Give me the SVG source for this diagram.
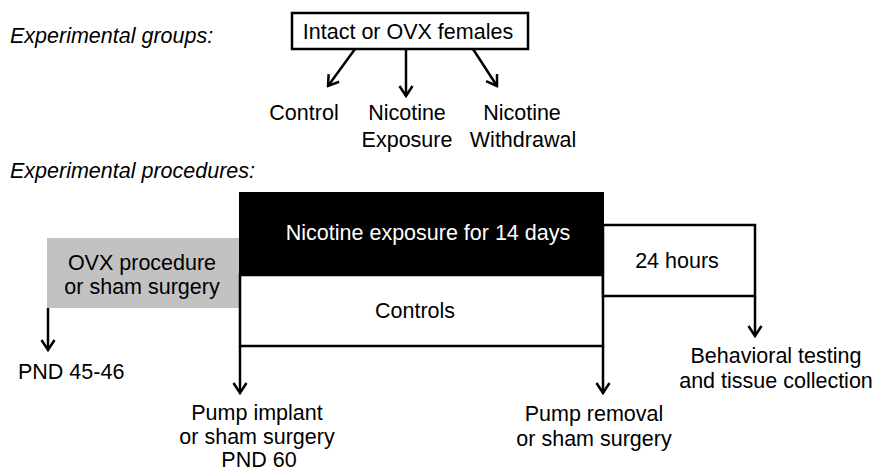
<svg xmlns="http://www.w3.org/2000/svg" width="875" height="473" viewBox="0 0 875 473">
<defs>
<marker id="arr" viewBox="0 0 14 16" refX="12" refY="8" markerWidth="14" markerHeight="16" markerUnits="userSpaceOnUse" orient="auto">
<path d="M2,1.5 L12,8 L2,14.5" fill="none" stroke="#000" stroke-width="2.5" stroke-linejoin="miter"/>
</marker>
<style>
text{font-family:"Liberation Sans",Arial,sans-serif;font-size:21.5px;fill:#000}
.it{font-style:italic}
.c{text-anchor:middle}
.w{fill:#fff}
.box{fill:#fff;stroke:#000;stroke-width:2.5}
.con{fill:none;stroke:#000;stroke-width:2.5;marker-end:url(#arr)}
</style>
</defs>
<rect width="875" height="473" fill="#fff"/>
<g id="labels">
<text class="it" x="10" y="43">Experimental groups:</text>
<text class="it" x="10" y="178">Experimental procedures:</text>
</g>
<g id="females">
<rect class="box" x="292" y="13" width="236" height="36"/>
<text class="c" x="408" y="39">Intact or OVX females</text>
</g>
<g id="control"><text class="c" x="304" y="120">Control</text></g>
<g id="exposure"><text class="c" x="407" y="120">Nicotine</text><text class="c" x="407" y="147">Exposure</text></g>
<g id="withdrawal"><text class="c" x="522" y="120">Nicotine</text><text class="c" x="523" y="147">Withdrawal</text></g>
<g id="ovx">
<rect x="47" y="238" width="193" height="70" fill="#c2c2c2"/>
<text class="c" x="142" y="270">OVX procedure</text>
<text class="c" x="142" y="294">or sham surgery</text>
</g>
<g id="controls">
<rect class="box" x="240" y="275" width="363" height="71"/>
<text class="c" x="415" y="318">Controls</text>
</g>
<g id="nicotine">
<rect x="239" y="192" width="365" height="83" fill="#000"/>
<text class="c w" x="428" y="240">Nicotine exposure for 14 days</text>
</g>
<g id="hours">
<rect class="box" x="603" y="225" width="152" height="71"/>
<text class="c" x="677" y="268">24 hours</text>
</g>
<g id="pnd45"><text x="18" y="379">PND 45-46</text></g>
<g id="implant">
<text class="c" x="257" y="420">Pump implant</text>
<text class="c" x="257" y="444">or sham surgery</text>
<text class="c" x="259" y="467">PND 60</text>
</g>
<g id="removal">
<text class="c" x="594" y="421">Pump removal</text>
<text class="c" x="594" y="446">or sham surgery</text>
</g>
<g id="behavior">
<text class="c" x="776" y="363">Behavioral testing</text>
<text class="c" x="776" y="388">and tissue collection</text>
</g>
<g id="connectors">
<line class="con" x1="355" y1="49" x2="328" y2="86"/>
<line class="con" x1="406" y1="49" x2="406" y2="96"/>
<line class="con" x1="473" y1="49" x2="497" y2="86"/>
<line class="con" x1="48" y1="308" x2="48" y2="350"/>
<line class="con" x1="240" y1="346" x2="240" y2="393"/>
<line class="con" x1="603" y1="346" x2="603" y2="393"/>
<line class="con" x1="755" y1="296" x2="755" y2="336"/>
</g>
</svg>
